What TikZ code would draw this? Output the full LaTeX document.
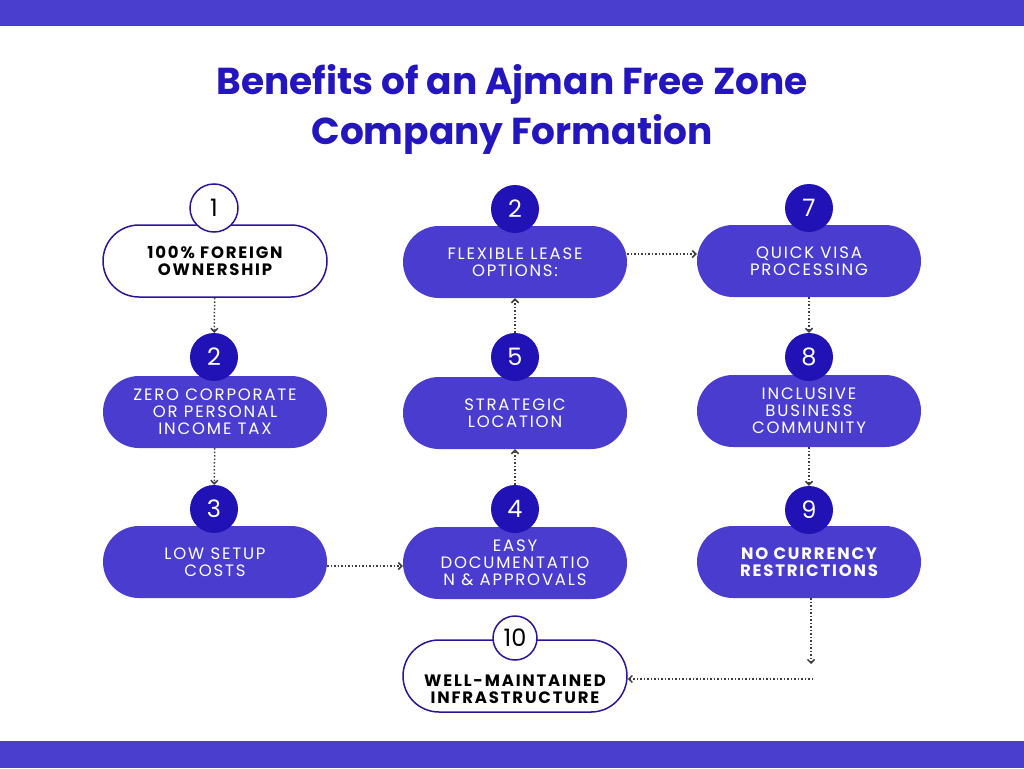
\documentclass[tikz,border=0pt]{standalone}
\usepackage{fontspec}
\setmainfont{Poppins}
\newfontfamily\pillfont[LetterSpace=11]{Poppins}
\usetikzlibrary{arrows.meta}
\definecolor{barblue}{RGB}{74,62,206}
\definecolor{pillblue}{RGB}{74,60,207}
\definecolor{dotblue}{RGB}{33,18,181}
\definecolor{ringblue}{RGB}{40,22,150}
\definecolor{titleblue}{RGB}{36,22,190}
\definecolor{arrowgray}{RGB}{60,60,60}
\tikzset{
	pill/.style={rectangle,rounded corners=36pt,minimum width=224pt,minimum height=72pt,inner sep=0pt,fill=pillblue,text=white,align=center,font=\pillfont\fontsize{16.5}{16.8}\selectfont},
	pillopen/.style={pill,fill=white,draw=ringblue,line width=1.5pt,text=black,font=\pillfont\bfseries\fontsize{16.5}{16.8}\selectfont},
	num/.style={circle,minimum size=48pt,inner sep=0pt,fill=dotblue,text=white,font=\fontsize{24}{24}\selectfont},
	numopen/.style={num,fill=white,draw=ringblue,line width=1.5pt,text=black},
	flow/.style={dotted,line width=1.5pt,draw=arrowgray,-{Straight Barb[length=3.5pt,width=7pt]}}
}
\begin{document}
\begin{tikzpicture}[x=1pt,y=-1pt]
	\useasboundingbox (0,0) rectangle (1024,768);
	\fill [barblue] (0,0) rectangle (1024,26);
	\fill [barblue] (0,741) rectangle (1024,768);
	\node [align=center,text=titleblue,font=\bfseries\fontsize{37.5}{50}\selectfont] (title) at (512,109) {Benefits of an Ajman Free Zone\\Company Formation};

	\node [pillopen] (own) at (215,261) {100\% FOREIGN\\OWNERSHIP};
	\node [pill] (tax) at (215,412) {ZERO CORPORATE\\OR PERSONAL\\INCOME TAX};
	\node [pill] (cost) at (215,562) {LOW SETUP\\COSTS};
	\node [pill] (docs) at (515,563) {EASY\\DOCUMENTATIO\\N \& APPROVALS};
	\node [pill] (loc) at (515,413) {STRATEGIC\\LOCATION};
	\node [pill] (lease) at (515,262) {FLEXIBLE LEASE\\OPTIONS:};
	\node [pill] (visa) at (809,261) {QUICK VISA\\PROCESSING};
	\node [pill] (comm) at (809,411) {INCLUSIVE\\BUSINESS\\COMMUNITY};
	\node [pill,font=\pillfont\bfseries\fontsize{16.5}{16.8}\selectfont] (curr) at (809,562) {NO CURRENCY\\RESTRICTIONS};
	\node [pillopen] (infra) at (515,676) {\strut\\[10pt]WELL-MAINTAINED\\INFRASTRUCTURE};

	\node [numopen] (own-n) at (214,208) {1};
	\node [num] (tax-n) at (214,357) {2};
	\node [num] (cost-n) at (214,509) {3};
	\node [num] (docs-n) at (515,509) {4};
	\node [num] (loc-n) at (515,357) {5};
	\node [num] (lease-n) at (515,209) {2};
	\node [num] (visa-n) at (809,208) {7};
	\node [num] (comm-n) at (809,357) {8};
	\node [num] (curr-n) at (809,510) {9};
	\node [numopen,minimum size=44pt] (infra-n) at (515,638) {10};

	\coordinate (turn-a) at (811,664);
	\coordinate (turn-b) at (813,679);

	\draw [flow] (own) -- (tax-n);
	\draw [flow] (tax) -- (cost-n);
	\draw [flow] ([yshift=-4pt]cost.east) -- ([yshift=-4pt]cost.east -| docs.west);
	\draw [flow] (docs-n) -- (loc);
	\draw [flow] (loc-n) -- (lease);
	\draw [flow] ([yshift=8pt]lease.east) -- ([yshift=8pt]lease.east -| visa.west);
	\draw [flow] (visa) -- (comm-n);
	\draw [flow] (comm) -- (curr-n);
	\draw [flow] (curr.south -| turn-a) -- (turn-a);
	\draw [flow] (turn-b) -- (turn-b -| infra.east);
\end{tikzpicture}
\end{document}
